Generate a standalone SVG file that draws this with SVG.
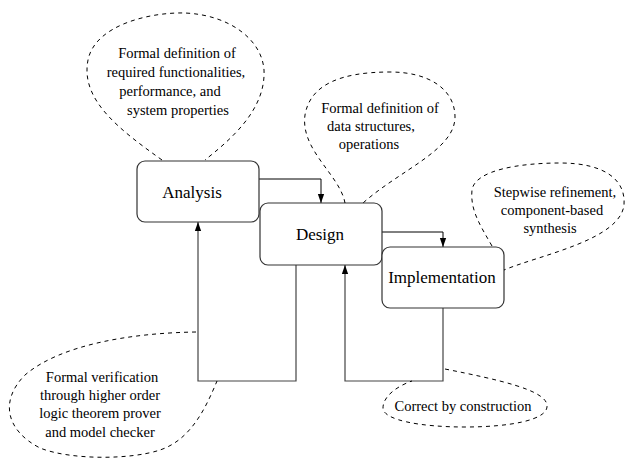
<svg xmlns="http://www.w3.org/2000/svg" width="627" height="459" viewBox="0 0 627 459">
<defs>
<style>
.box{fill:#fff;stroke:#333;stroke-width:1.2}
text{font-family:'Liberation Serif','DejaVu Serif',serif;fill:#000;text-anchor:middle}
.lbl{font-size:17px}
.note{font-size:14.5px}
.bub{fill:none;stroke:#000;stroke-width:1;stroke-dasharray:4,4}
.con{fill:none;stroke:#000;stroke-width:1}
.fb{fill:none;stroke:#444;stroke-width:1.2}
</style>
<marker id="ah" viewBox="0 0 10 10" refX="10" refY="5" markerWidth="9" markerHeight="9" markerUnits="userSpaceOnUse" orient="auto">
<path d="M0,1.5 L10,5 L0,8.5 z" fill="#000"/>
</marker>
</defs>
<g id="connectors">
<path class="con" d="M259,179 H321 V203" marker-end="url(#ah)"/>
<path class="con" d="M382,232 H443 V247" marker-end="url(#ah)"/>
<path class="fb" d="M296,265 V381 H198 V222" marker-end="url(#ah)"/>
<path class="fb" d="M443,308 V381 H345 V265" marker-end="url(#ah)"/>
</g>
<g id="analysis">
<rect class="box" x="137" y="161" width="122" height="61" rx="8"/>
<text class="lbl" x="192" y="198">Analysis</text>
</g>
<g id="design">
<rect class="box" x="260" y="203" width="122" height="62" rx="8"/>
<text class="lbl" x="320" y="240">Design</text>
</g>
<g id="implementation">
<rect class="box" x="382" y="247" width="122" height="61" rx="8"/>
<text class="lbl" x="442" y="283">Implementation</text>
</g>
<g id="note-analysis">
<path class="bub" d="M162,160 C120,130 80,100 88,60 C95,25 150,12 185,13 C230,15 262,40 264,70 C266,110 230,140 205,160"/>
<text class="note" x="177" y="58">Formal definition of</text>
<text class="note" x="176" y="77">required functionalities,</text>
<text class="note" x="170" y="96">performance, and</text>
<text class="note" x="178" y="115">system properties</text>
</g>
<g id="note-design">
<path class="bub" d="M345,203 C340,175 300,150 305,115 C310,85 340,72 390,72 C430,72 455,90 455,117 C455,150 400,170 363,203"/>
<text class="note" x="380" y="113">Formal definition of</text>
<text class="note" x="371" y="131">data structures,</text>
<text class="note" x="369" y="149">operations</text>
</g>
<g id="note-implementation">
<path class="bub" d="M492,246 C480,225 470,210 472,190 C475,170 520,163 560,163 C605,163 626,180 624,205 C620,240 540,255 504,270"/>
<text class="note" x="555" y="197">Stepwise refinement,</text>
<text class="note" x="552" y="215">component-based</text>
<text class="note" x="550" y="233">synthesis</text>
</g>
<g id="note-verification">
<path class="bub" d="M196,332 C130,333 60,345 25,375 C0,400 5,430 40,448 C70,460 130,460 160,450 C190,440 205,410 217,381"/>
<text class="note" x="102" y="382">Formal verification</text>
<text class="note" x="100" y="400">through higher order</text>
<text class="note" x="100" y="418">logic theorem prover</text>
<text class="note" x="100" y="437">and model checker</text>
</g>
<g id="note-construction">
<path class="bub" d="M445,369 C500,380 545,390 547,405 C549,420 510,427 465,427 C420,427 383,420 383,408 C383,395 400,385 412,381"/>
<text class="note" x="463" y="411">Correct by construction</text>
</g>
</svg>
